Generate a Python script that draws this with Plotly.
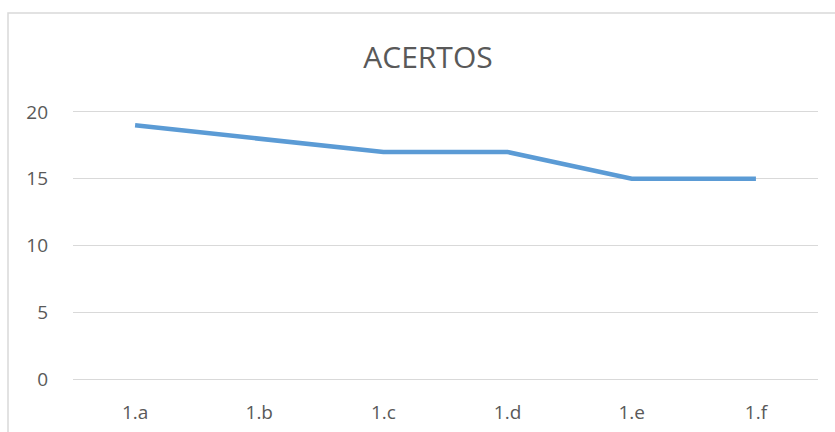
import plotly.graph_objects as go

categories = ["1.a", "1.b", "1.c", "1.d", "1.e", "1.f"]
acertos = [19, 18, 17, 17, 15, 15]
y_ticks = [0, 5, 10, 15, 20]

W, H = 835, 432
L, R, T, B = 73, 17, 112, 53
pw, ph = W - L - R, H - T - B

fig = go.Figure()
fig.add_trace(go.Scatter(
    x=categories, y=acertos, mode="lines",
    line=dict(color="#5B9BD5", width=4.5),
    hoverinfo="skip", showlegend=False,
))

font = "Open Sans, Liberation Sans, sans-serif"
fig.update_layout(
    width=W, height=H,
    margin=dict(l=L, r=R, t=T, b=B, autoexpand=False),
    paper_bgcolor="white", plot_bgcolor="white",
    font=dict(family=font, color="#595959", size=19),
    title=dict(text="ACERTOS", x=428 / W, xanchor="center", y=1 - 57 / H,
               yanchor="middle", font=dict(size=30, color="#595959", family=font)),
    xaxis=dict(type="category", range=[-0.5, 5.5], showgrid=False, automargin=False,
               showline=True, mirror=True, linecolor="#D9D9D9", linewidth=1,
               zeroline=False, ticks="", ticklabelstandoff=16,
               tickfont=dict(size=19, color="#595959")),
    yaxis=dict(range=[0, 20], tickvals=y_ticks, showgrid=True, gridcolor="#D9D9D9",
               gridwidth=1, zeroline=False, showline=False, ticks="", automargin=False,
               ticklabelstandoff=24, tickfont=dict(size=19, color="#595959")),
    shapes=[dict(type="rect", xref="paper", yref="paper",
                 x0=(8 - L) / pw, x1=1.2, y0=-0.5, y1=(H - B - 13) / ph,
                 line=dict(color="#D9D9D9", width=1.5), fillcolor="rgba(0,0,0,0)",
                 layer="below")],
)

fig.write_html("out.html")
